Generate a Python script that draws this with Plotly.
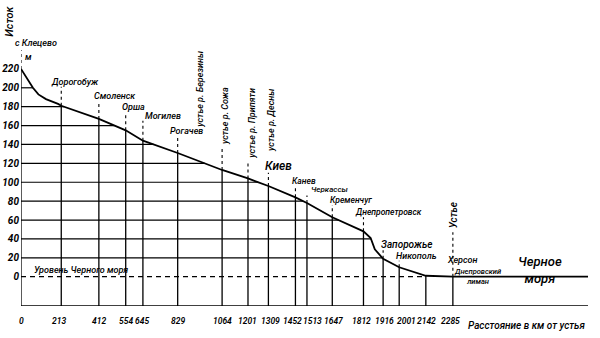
import numpy as np
import plotly.graph_objects as go

# Longitudinal profile of the Dnieper: distance (km) vs water level (m)
profile_km = [0, 40, 63, 92, 132, 196, 213, 412, 554, 645, 829, 1064, 1201, 1309,
              1452, 1513, 1647, 1812, 1850, 1872, 1905, 1916, 2001, 2142, 2285]
profile_m = [220, 207, 200, 193, 188, 183, 181, 167, 155, 144, 131, 113, 104, 96,
             84, 78, 63, 48, 41, 29, 21, 19, 10, 1, 0]

# Open sea beyond the mouth
sea_km = [2285, 3000]
sea_m = [0, 0]

# Distance ticks (km) and elevation ticks (m)
tick_km = [0, 213, 412, 554, 645, 829, 1064, 1201, 1309, 1452, 1513, 1647,
           1812, 1916, 2001, 2142, 2285]
tick_m = list(range(0, 221, 20))

# Height (m) where each station's dashed leader ends under its label
leader_top = [242, 201, 186, 174, 165, 149, 138, 121, 110, 96, 86, 76,
              63, 28, 17, None, 47]
# Small horizontal nudges (px) for crowded distance labels
tick_shift = [0, -2, 0, 0, -1, 0, 0, 0, 2, -3, 6, 1, -2, 1, 7, 1, -2]

FONT = "Roboto, Liberation Sans, sans-serif"
BOTTOM = -31
TOP = 240
X_END = 3000

km_arr = np.array(profile_km, float)
m_arr = np.array(profile_m, float)


def level_at(k):
    return float(np.interp(k, km_arr, m_arr))


def km_at(level):
    return float(np.interp(level, m_arr[::-1], km_arr[::-1]))


def italic(s):
    return "<i>" + s + "</i>"


fig = go.Figure()

# horizontal grid under the profile
gx, gy = [], []
for lv in tick_m[1:]:
    k = km_at(lv)
    if k > 0:
        gx += [0, k, None]
        gy += [lv, lv, None]
fig.add_trace(go.Scatter(x=gx, y=gy, mode="lines",
                         line=dict(color="black", width=1.2), hoverinfo="skip"))

# vertical station lines: solid below the profile, dashed up to the label
vx, vy, dx, dy = [], [], [], []
for k, top in zip(tick_km, leader_top):
    lv = level_at(k)
    vx += [k, k, None]
    vy += [BOTTOM, lv, None]
    if top is not None:
        dx += [k, k, None]
        dy += [lv, top, None]
fig.add_trace(go.Scatter(x=vx, y=vy, mode="lines",
                         line=dict(color="black", width=1.3), hoverinfo="skip"))
fig.add_trace(go.Scatter(x=dx, y=dy, mode="lines",
                         line=dict(color="black", width=1.1, dash="3px,3px"),
                         hoverinfo="skip"))

# sea level (dashed) and the base line
k0 = tick_km[-2]
fig.add_trace(go.Scatter(x=[0, k0], y=[0, 0], mode="lines",
                         line=dict(color="black", width=1.2, dash="5px,4px"),
                         hoverinfo="skip"))
fig.add_trace(go.Scatter(x=[0, X_END], y=[BOTTOM, BOTTOM], mode="lines",
                         line=dict(color="black", width=1.6), hoverinfo="skip"))

# the river profile and the sea
fig.add_trace(go.Scatter(x=profile_km, y=profile_m, mode="lines",
                         line=dict(color="black", width=1.8), hoverinfo="skip"))
fig.add_trace(go.Scatter(x=sea_km, y=sea_m, mode="lines",
                         line=dict(color="black", width=1.8), hoverinfo="skip"))

# (text, km, m, font size, angle)
labels = [
    ("Исток", -58, 270, 11, -90),
    ("с Клецево", 79, 247, 9, 0),
    ("м", 42, 233, 9, 0),
    ("Дорогобуж", 286, 206, 9, 0),
    ("Смоленск", 497, 191, 9, 0),
    ("Орша", 593, 180, 9, 0),
    ("Могилев", 751, 170, 9, 0),
    ("Рогачев", 878, 154, 9, 0),
    ("устье р. Березины", 947, 199, 9, -90),
    ("устье р. Сожа", 1079, 170, 9, -90),
    ("устье р. Припяти", 1222, 163, 9, -90),
    ("устье р. Десны", 1323, 165, 9, -90),
    ("Киев", 1360, 117, 12, 0),
    ("Канев", 1497, 101, 8.5, 0),
    ("Черкассы", 1630, 92, 8, 0),
    ("Кременчуг", 1746, 81, 8.5, 0),
    ("Днепропетровск", 1942, 69, 8.5, 0),
    ("Запорожье", 2042, 34, 10, 0),
    ("Никополь", 2090, 22, 9, 0),
    ("Устье", 2285, 65, 10, -90),
    ("Херсон", 2333, 17.5, 9, 0),
    ("Днепровский<br>лиман", 2413, 0, 7.5, 0),
    ("Черное<br>моря", 2746, 7, 13, 0),
    ("Уровень Черного моря", 317, 7, 9, 0),
    ("Расстояние в км от устья", 2677, -52, 10, 0),
]
for text, x, y, size, ang in labels:
    fig.add_annotation(x=x / X_END, y=(y - BOTTOM) / (TOP - BOTTOM),
                       xref="paper", yref="paper", text=italic(text),
                       showarrow=False, textangle=ang,
                       xanchor="center", yanchor="middle",
                       font=dict(family=FONT, size=size, color="black", weight=500))

# distance labels under the base line
for k, sh in zip(tick_km, tick_shift):
    fig.add_annotation(x=k, y=-0.06, xref="x", yref="paper", text=italic(str(k)),
                       showarrow=False, xshift=sh, xanchor="center", yanchor="middle",
                       font=dict(family=FONT, size=8.5, color="black", weight=600))

fig.update_layout(
    width=600, height=338,
    margin=dict(l=21, r=12, t=50, b=32, autoexpand=False),
    paper_bgcolor="white", plot_bgcolor="white",
    showlegend=False,
    xaxis=dict(range=[0, X_END], showgrid=False, zeroline=False, showline=False,
               showticklabels=False, ticks="", automargin=False),
    yaxis=dict(range=[BOTTOM, TOP], showgrid=False, zeroline=False, showline=False,
               tickmode="array", tickvals=tick_m,
               ticktext=[italic(str(v)) for v in tick_m],
               ticks="", ticklabelstandoff=1, automargin=False,
               tickfont=dict(family=FONT, size=10, color="black", weight=700)),
)

fig.write_html("out.html")
